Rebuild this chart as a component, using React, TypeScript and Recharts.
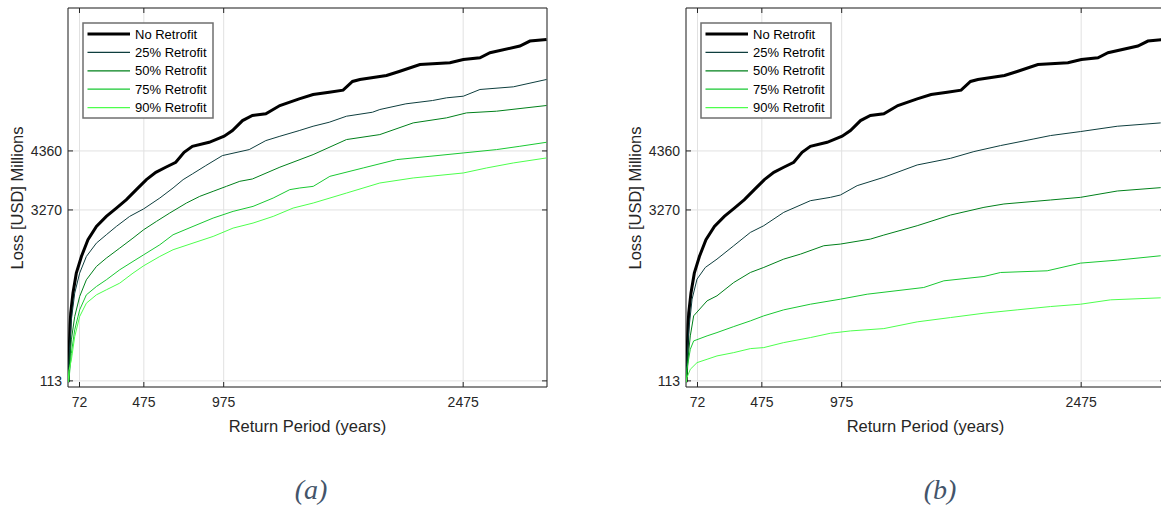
import React from 'react';
import { LineChart, Line, XAxis, YAxis, CartesianGrid, ReferenceArea, ReferenceLine } from 'recharts';

const FONT = '"Liberation Sans", Arial, Helvetica, sans-serif';
const INK = '#262626';

const RP_TICKS = [72, 475, 975, 2475];
const LOSS_TICKS = [113, 3270, 4360];
const RP_DOMAIN = [0, 3000];
const LOSS_DOMAIN = [0, 7000];

const SERIES_NAMES = ['No Retrofit', '25% Retrofit', '50% Retrofit', '75% Retrofit', '90% Retrofit'];
const SERIES_COLORS = ['#000000', '#0e3e3e', '#00801a', '#19c832', '#4dff4d'];
const SERIES_WIDTHS = [3, 1, 1, 1, 1];

// No Retrofit (same in both panels)
const noRetX = [1, 7, 10, 13, 17, 31, 52, 84, 125, 178, 240, 303, 366, 428, 491, 550, 612, 675, 727, 779, 884, 978, 1030, 1093, 1155, 1239, 1327, 1448, 1535, 1636, 1723, 1782, 1828, 1995, 2074, 2204, 2392, 2476, 2580, 2643, 2830, 2893, 2997];
const noRetY = [90, 700, 880, 1150, 1363, 1733, 2103, 2411, 2720, 2966, 3151, 3305, 3460, 3645, 3830, 3965, 4058, 4150, 4335, 4446, 4520, 4631, 4736, 4921, 5014, 5045, 5199, 5322, 5402, 5445, 5483, 5643, 5680, 5754, 5828, 5957, 5988, 6050, 6081, 6173, 6297, 6389, 6420];

// Panel (a)
const a25X = [1, 4, 10, 21, 42, 73, 115, 178, 240, 303, 386, 474, 575, 658, 721, 779, 863, 967, 1135, 1239, 1327, 1448, 1535, 1636, 1744, 1907, 1953, 2116, 2283, 2371, 2476, 2580, 2789, 2997];
const a25Y = [90, 376, 700, 1240, 1733, 2103, 2411, 2658, 2812, 2966, 3151, 3290, 3490, 3676, 3830, 3935, 4089, 4274, 4385, 4551, 4631, 4736, 4816, 4890, 5001, 5075, 5125, 5230, 5291, 5341, 5371, 5495, 5544, 5680];
const a50X = [1, 4, 21, 42, 73, 115, 178, 240, 324, 407, 474, 554, 637, 742, 825, 909, 992, 1076, 1155, 1327, 1535, 1744, 1953, 2162, 2371, 2496, 2684, 2997];
const a50Y = [90, 191, 870, 1301, 1671, 1980, 2226, 2380, 2565, 2750, 2905, 3059, 3213, 3398, 3521, 3614, 3706, 3799, 3842, 4060, 4292, 4570, 4662, 4878, 4971, 5063, 5094, 5199];
const a75X = [1, 6, 21, 42, 73, 115, 178, 240, 324, 407, 474, 575, 658, 783, 909, 1034, 1159, 1285, 1389, 1452, 1536, 1640, 1849, 2058, 2267, 2476, 2684, 2830, 2997];
const a75Y = [90, 130, 623, 1055, 1425, 1702, 1856, 1980, 2165, 2319, 2442, 2627, 2812, 2966, 3120, 3244, 3336, 3490, 3645, 3676, 3706, 3891, 4046, 4200, 4261, 4323, 4385, 4446, 4520];
const a90X = [1, 6, 21, 42, 73, 115, 178, 240, 324, 407, 474, 575, 658, 783, 909, 1034, 1159, 1285, 1410, 1536, 1745, 1953, 2162, 2476, 2622, 2789, 2997];
const a90Y = [90, 300, 500, 931, 1301, 1548, 1702, 1795, 1918, 2103, 2239, 2411, 2535, 2658, 2781, 2935, 3028, 3151, 3305, 3398, 3583, 3768, 3861, 3953, 4046, 4138, 4231];

// Panel (b)
const b25X = [1, 4, 17, 38, 69, 121, 194, 299, 403, 487, 612, 779, 905, 967, 1072, 1239, 1448, 1657, 1803, 1970, 2179, 2283, 2471, 2701, 2973];
const b25Y = [90, 400, 1036, 1622, 1992, 2208, 2362, 2609, 2855, 2979, 3225, 3441, 3503, 3546, 3719, 3873, 4101, 4224, 4348, 4459, 4582, 4644, 4718, 4816, 4878];
const b50X = [1, 10, 27, 48, 132, 194, 299, 403, 487, 612, 717, 863, 967, 1155, 1239, 1448, 1657, 1866, 1991, 2283, 2471, 2701, 2973];
const b50Y = [90, 450, 944, 1314, 1591, 1684, 1930, 2115, 2208, 2362, 2454, 2609, 2640, 2732, 2806, 2979, 3176, 3318, 3380, 3454, 3503, 3620, 3682];
const b75X = [1, 6, 27, 48, 132, 194, 299, 403, 487, 612, 779, 967, 1135, 1489, 1615, 1866, 1970, 2262, 2471, 2701, 2973];
const b75Y = [90, 327, 697, 851, 944, 1005, 1116, 1221, 1314, 1425, 1529, 1622, 1714, 1838, 1961, 2041, 2115, 2146, 2288, 2343, 2424];
const b90X = [1, 6, 27, 69, 132, 194, 299, 403, 487, 612, 779, 905, 1030, 1239, 1448, 1657, 1866, 2074, 2283, 2471, 2659, 2973];
const b90Y = [90, 173, 327, 450, 512, 574, 635, 709, 728, 820, 913, 993, 1036, 1079, 1203, 1283, 1363, 1425, 1486, 1529, 1610, 1647];

const zip = (xs: number[], ys: number[]) => xs.map((x, i) => ({ x, y: ys[i] }));

const panelA = [zip(noRetX, noRetY), zip(a25X, a25Y), zip(a50X, a50Y), zip(a75X, a75Y), zip(a90X, a90Y)];
const panelB = [zip(noRetX, noRetY), zip(b25X, b25Y), zip(b50X, b50Y), zip(b75X, b75Y), zip(b90X, b90Y)];

const CHART_W = 560;
const CHART_H = 440;
const MARGIN = { top: 8, right: 13, bottom: 23, left: 0 };
const Y_AXIS_W = 68;
const X_AXIS_H = 30;
const PLOT_W = CHART_W - MARGIN.left - MARGIN.right - Y_AXIS_W; // 479
const PLOT_H = CHART_H - MARGIN.top - MARGIN.bottom - X_AXIS_H; // 379
const TICK_PX = 5;

function LegendBox() {
  return (
    <svg width={132} height={97} style={{ position: 'absolute', left: 82, top: 22 }}>
      <rect x={1} y={1} width={130} height={95} fill="#ffffff" stroke="#6f6f6f" strokeWidth={1.5} />
      {SERIES_NAMES.map((name, i) => {
        const cy = 12 + i * 18.4;
        return (
          <g key={name}>
            <line x1={5.5} x2={48} y1={cy} y2={cy} stroke={SERIES_COLORS[i]} strokeWidth={SERIES_WIDTHS[i] === 3 ? 3 : 1.2} />
            <text x={53} y={cy} dominantBaseline="central" fontSize={13} fontFamily={FONT} fill="#000">
              {name}
            </text>
          </g>
        );
      })}
    </svg>
  );
}

function Panel({ left, series, caption, captionX }: { left: number; series: { x: number; y: number }[][]; caption: string; captionX: number }) {
  const xPerPx = (RP_DOMAIN[1] - RP_DOMAIN[0]) / PLOT_W;
  const yPerPx = (LOSS_DOMAIN[1] - LOSS_DOMAIN[0]) / PLOT_H;
  const plotLeft = MARGIN.left + Y_AXIS_W;
  const plotCx = plotLeft + PLOT_W / 2;
  const plotCy = MARGIN.top + PLOT_H / 2;
  return (
    <div style={{ position: 'absolute', left, top: 0, width: CHART_W, height: 506 }}>
      <LineChart width={CHART_W} height={CHART_H} margin={MARGIN}>
        <CartesianGrid stroke="#e1e1e1" strokeWidth={1} />
        <XAxis
          type="number"
          dataKey="x"
          domain={RP_DOMAIN}
          ticks={RP_TICKS}
          interval={0}
          allowDataOverflow
          height={X_AXIS_H}
          axisLine={false}
          tickLine={false}
          tickSize={0}
          tickMargin={10}
          tick={{ fill: INK, fontSize: 14, fontFamily: FONT }}
        />
        <YAxis
          type="number"
          domain={LOSS_DOMAIN}
          ticks={LOSS_TICKS}
          interval={0}
          allowDataOverflow
          width={Y_AXIS_W}
          axisLine={false}
          tickLine={false}
          tickSize={0}
          tickMargin={6}
          tick={{ fill: INK, fontSize: 14, fontFamily: FONT }}
        />
        {RP_TICKS.map((t) => (
          <ReferenceLine key={'xb' + t} segment={[{ x: t, y: LOSS_DOMAIN[0] }, { x: t, y: LOSS_DOMAIN[0] + TICK_PX * yPerPx }]} stroke={INK} strokeWidth={1} />
        ))}
        {RP_TICKS.map((t) => (
          <ReferenceLine key={'xt' + t} segment={[{ x: t, y: LOSS_DOMAIN[1] }, { x: t, y: LOSS_DOMAIN[1] - TICK_PX * yPerPx }]} stroke={INK} strokeWidth={1} />
        ))}
        {LOSS_TICKS.map((t) => (
          <ReferenceLine key={'yl' + t} segment={[{ x: RP_DOMAIN[0], y: t }, { x: RP_DOMAIN[0] + TICK_PX * xPerPx, y: t }]} stroke={INK} strokeWidth={1} />
        ))}
        {LOSS_TICKS.map((t) => (
          <ReferenceLine key={'yr' + t} segment={[{ x: RP_DOMAIN[1], y: t }, { x: RP_DOMAIN[1] - TICK_PX * xPerPx, y: t }]} stroke={INK} strokeWidth={1} />
        ))}
        {series.map((pts, i) => (
          <Line
            key={SERIES_NAMES[i]}
            name={SERIES_NAMES[i]}
            data={pts}
            dataKey="y"
            type="linear"
            stroke={SERIES_COLORS[i]}
            strokeWidth={SERIES_WIDTHS[i]}
            dot={false}
            activeDot={false}
            isAnimationActive={false}
          />
        ))}
        <ReferenceArea x1={RP_DOMAIN[0]} x2={RP_DOMAIN[1]} y1={LOSS_DOMAIN[0]} y2={LOSS_DOMAIN[1]} fill="none" fillOpacity={0} stroke={INK} strokeWidth={1} strokeOpacity={1} />
      </LineChart>
      <LegendBox />
      <div
        style={{
          position: 'absolute',
          left: 16.5,
          top: plotCy,
          transform: 'translate(-50%, -50%) rotate(-90deg)',
          whiteSpace: 'nowrap',
          fontFamily: FONT,
          fontSize: 16.5,
          lineHeight: '18px',
          color: INK,
        }}
      >
        Loss [USD] Millions
      </div>
      <div
        style={{
          position: 'absolute',
          left: plotCx,
          top: 426,
          transform: 'translate(-50%, -50%)',
          whiteSpace: 'nowrap',
          fontFamily: FONT,
          fontSize: 16.5,
          lineHeight: '18px',
          color: INK,
        }}
      >
        Return Period (years)
      </div>
      <div
        style={{
          position: 'absolute',
          left: captionX,
          top: 476,
          transform: 'translateX(-50%)',
          whiteSpace: 'nowrap',
          fontFamily: '"Liberation Serif", "Times New Roman", serif',
          fontStyle: 'italic',
          fontSize: 28,
          lineHeight: '28px',
          color: '#44546a',
        }}
      >
        {caption}
      </div>
    </div>
  );
}

export default function App() {
  return (
    <div style={{ position: 'absolute', left: 0, top: 0, width: 1161, height: 506, overflow: 'hidden', background: '#ffffff' }}>
      <Panel left={0} series={panelA} caption="(a)" captionX={311} />
      <Panel left={618} series={panelB} caption="(b)" captionX={322} />
    </div>
  );
}
